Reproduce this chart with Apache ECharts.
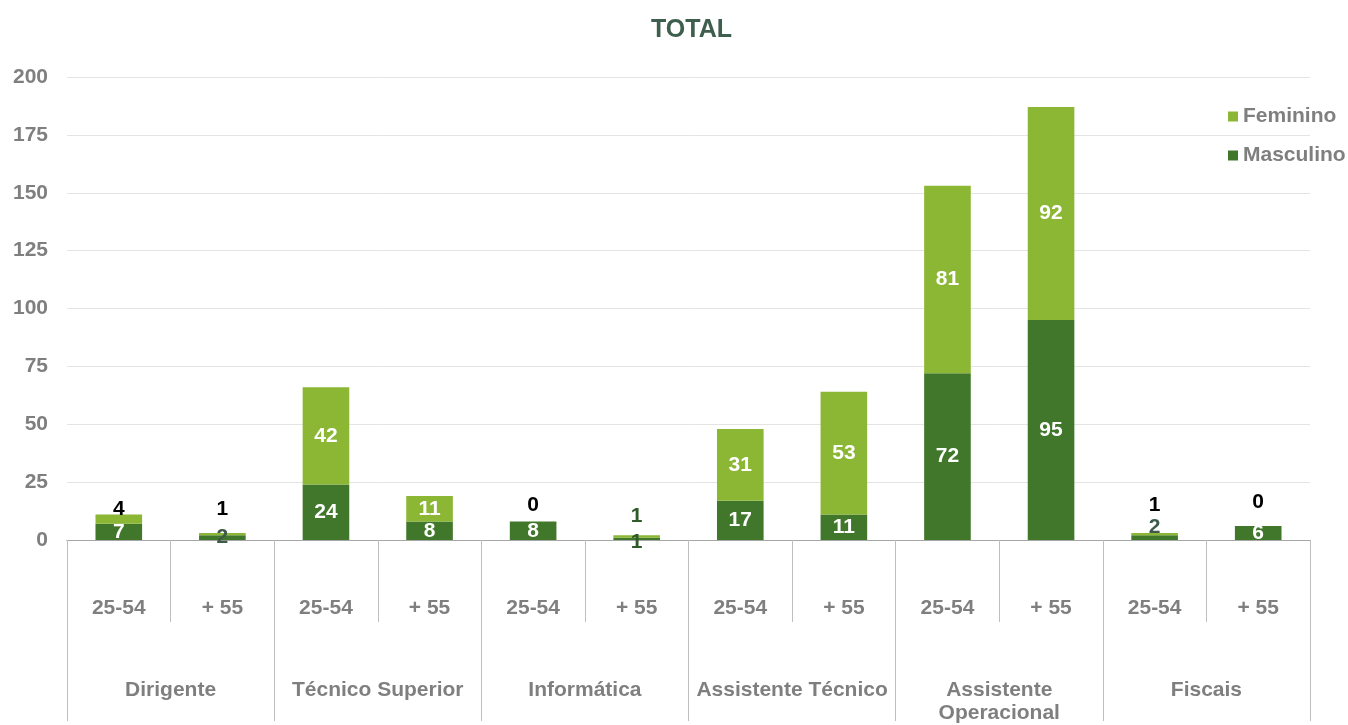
<!DOCTYPE html>
<html>
<head>
<meta charset="utf-8">
<script src="https://cdn.jsdelivr.net/npm/echarts@6/dist/echarts.min.js"></script>
<style>html,body{margin:0;padding:0;background:#fff;}#c{width:1348px;height:725px;}</style>
</head>
<body>
<div id="c"></div>
<script>
const ageLabels = ['25-54','+ 55','25-54','+ 55','25-54','+ 55','25-54','+ 55','25-54','+ 55','25-54','+ 55'];
const groups = ['Dirigente','Técnico Superior','Informática','Assistente Técnico','Assistente\nOperacional','Fiscais'];
const masculino = [7,2,24,8,8,1,17,11,72,95,2,6];
const feminino = [4,1,42,11,0,1,31,53,81,92,1,0];
const yTicks = [0,25,50,75,100,125,150,175,200];

const FONT = 'Liberation Sans, Arial, sans-serif';
const GRAY = '#7f7f7f';
const DARK = '#41772a';
const LIGHT = '#8bb734';

// per-item label tweaks (index -> label options)
const femLabelFix = {
  0: {position:'top', distance:-5, color:'#000'},
  1: {position:'top', distance:13, color:'#000'},
  4: {position:'top', distance:6, color:'#000'},
  5: {position:'top', distance:9, color:'#2f5a2a'},
  10: {position:'top', distance:17, color:'#000'},
  11: {position:'top', distance:13, color:'#000'}
};
const mascLabelFix = {
  1: {color:'#3f5a4a'},
  5: {color:'#2f5a2a', offset:[0,3]},
  10: {color:'#3f5a4a', offset:[0,-10]}
};

function build(values, fixes) {
  return values.map((v, i) => fixes[i] ? {value: v, label: fixes[i]} : v);
}

const chart = echarts.init(document.getElementById('c'), null, {renderer:'canvas'});
chart.setOption({
  animation: false,
  title: {
    text: 'TOTAL', left: 646, top: 13,
    textStyle: {fontFamily: FONT, fontSize: 25, fontWeight: 'bold', color: '#3e5e4e'}
  },
  legend: {
    data: ['Feminino','Masculino'],
    orient: 'vertical', left: 1223, top: 101,
    itemWidth: 10, itemHeight: 10, itemGap: 18,
    icon: 'rect',
    textStyle: {fontFamily: FONT, fontSize: 21, fontWeight: 'bold', color: GRAY, lineHeight: 21}
  },
  grid: {left: 67, right: 38, top: 77, bottom: 181, containLabel: false},
  yAxis: {
    type: 'value', min: yTicks[0], max: yTicks[yTicks.length-1], interval: 25,
    axisLine: {show: false}, axisTick: {show: false},
    axisLabel: {margin: 19, fontFamily: FONT, fontSize: 21, fontWeight: 'bold', color: GRAY},
    splitLine: {lineStyle: {color: '#e4e4e4', width: 1}}
  },
  xAxis: [
    {
      type: 'category', data: ageLabels, position: 'bottom',
      axisLine: {lineStyle: {color: '#a6a6a6', width: 1}},
      axisTick: {show: true, interval: 0, length: 82, lineStyle: {color: '#bfbfbf'}},
      axisLabel: {interval: 0, margin: 68, verticalAlign: 'middle', fontFamily: FONT, fontSize: 21, fontWeight: 'bold', color: GRAY}
    },
    {
      type: 'category', data: groups, position: 'bottom', offset: 0,
      axisLine: {show: true, lineStyle: {color: '#a6a6a6', width: 1}},
      axisTick: {show: true, interval: 0, length: 181, lineStyle: {color: '#bfbfbf'}},
      axisLabel: {interval: 0, margin: 139, verticalAlign: 'top', lineHeight: 23, fontFamily: FONT, fontSize: 21, fontWeight: 'bold', color: GRAY}
    }
  ],
  series: [
    {
      name: 'Masculino', type: 'bar', stack: 'total', xAxisIndex: 0,
      barWidth: '45%',
      itemStyle: {color: DARK},
      label: {show: true, position: 'inside', color: '#fff', fontFamily: FONT, fontSize: 21, fontWeight: 'bold'},
      data: build(masculino, mascLabelFix)
    },
    {
      name: 'Feminino', type: 'bar', stack: 'total', xAxisIndex: 0,
      barWidth: '45%',
      itemStyle: {color: LIGHT},
      label: {show: true, position: 'inside', color: '#fff', fontFamily: FONT, fontSize: 21, fontWeight: 'bold'},
      data: build(feminino, femLabelFix)
    }
  ]
});
</script>
</body>
</html>
